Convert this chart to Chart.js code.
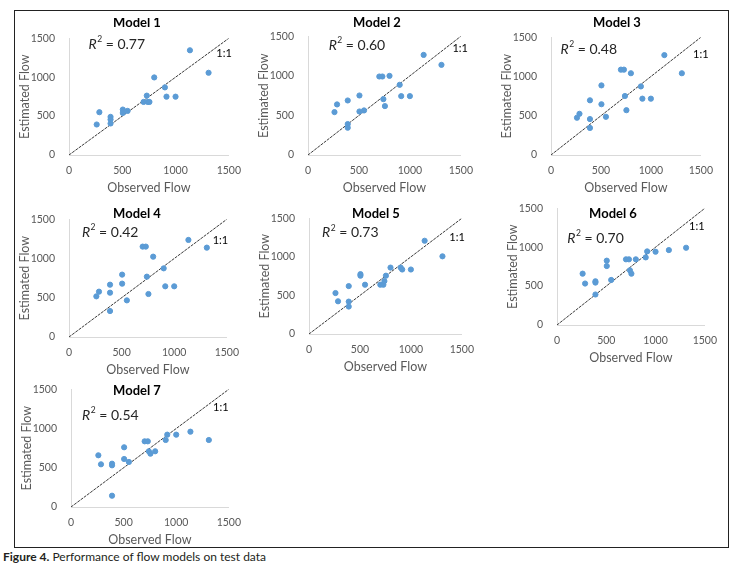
<!DOCTYPE html>
<html>
<head>
<meta charset="utf-8">
<script src="https://cdn.jsdelivr.net/npm/chart.js@4.4.1/dist/chart.umd.min.js"></script>
<style>
  body { margin: 0; background: #fff; width: 733px; height: 572px; position: relative; overflow: hidden; }
  #frame { position: absolute; left: 14px; top: 10px; width: 713px; height: 536px; border: 1.5px solid #222; }
  .panel { position: absolute; }
  #caption { position: absolute; left: 3px; top: 549px; font: 12px Lato, sans-serif; color: #231f20; }
</style>
</head>
<body>
<div id="frame"></div>
<div id="caption"><b>Figure 4.</b> Performance of flow models on test data</div>
<script>
// observed flow is the same test set for every model
const observed = [260, 285, 390, 390, 390, 505, 505, 550, 700, 730, 740, 755, 800, 900, 915, 1000, 1135, 1310];

const model1 = [392, 550, 490, 456, 405, 584, 541, 567, 682, 763, 682, 682, 997, 869, 750, 750, 1346, 1057];
const model2 = [542, 639, 689, 391, 345, 752, 550, 563, 992, 992, 706, 618, 1000, 887, 744, 744, 1265, 1139];
const model3 = [475, 525, 458, 697, 345, 887, 647, 487, 1088, 1088, 752, 571, 1042, 874, 718, 718, 1273, 1042];
const model4 = [518, 578, 565, 667, 331, 795, 680, 467, 1152, 1152, 769, 548, 1024, 875, 646, 646, 1237, 1139];
const model5 = [531, 424, 621, 420, 356, 776, 756, 639, 639, 639, 686, 756, 861, 861, 836, 836, 1209, 1007];
const model6 = [660, 533, 562, 545, 392, 827, 758, 579, 844, 844, 703, 660, 844, 869, 946, 942, 963, 993];
const model7 = [659, 544, 552, 531, 144, 761, 612, 574, 837, 837, 710, 680, 710, 854, 922, 922, 960, 854];

const modelNames = ['Model 1', 'Model 2', 'Model 3', 'Model 4', 'Model 5', 'Model 6', 'Model 7'];
const estimated = [model1, model2, model3, model4, model5, model6, model7];
const r2 = [0.77, 0.60, 0.48, 0.42, 0.73, 0.70, 0.54];
const axisTicks = [0, 500, 1000, 1500];

// layout: plot area in page px, title offset from plot top-left, label anchors in data units
const panels = [
  { left: 69,  top: 38,  w: 166, h: 117, tdx: 68, tdy: -15, r2At: [446, 1419], oneAt: [1455, 1300] },
  { left: 308, top: 36,  w: 159, h: 119, tdx: 69, tdy: -13, r2At: [478, 1387], oneAt: [1494, 1345] },
  { left: 551, top: 37,  w: 156, h: 118, tdx: 66, tdy: -14, r2At: [376, 1345], oneAt: [1500, 1282] },
  { left: 69,  top: 219, w: 164, h: 118, tdx: 68, tdy: -5,  r2At: [389, 1330], oneAt: [1439, 1228] },
  { left: 309, top: 218, w: 159, h: 116, tdx: 67, tdy: -4,  r2At: [403, 1312], oneAt: [1453, 1256] },
  { left: 557, top: 208, w: 154, h: 117, tdx: 56, tdy: 6,   r2At: [389, 1116], oneAt: [1419, 1270] },
  { left: 71,  top: 389, w: 164, h: 118, tdx: 66, tdy: 2,   r2At: [372, 1169], oneAt: [1424, 1275] }
];

const FONT = 'Lato, sans-serif';
const PAD_L = 55, PAD_T = 20, PAD_R = 15, PAD_B = 40;

const panelLabels = {
  id: 'panelLabels',
  afterDatasetsDraw(chart, args, o) {
    const { ctx, chartArea, scales } = chart;
    ctx.save();
    ctx.textBaseline = 'middle';
    // title
    ctx.fillStyle = '#000';
    ctx.textAlign = 'center';
    ctx.font = 'bold 13px ' + FONT;
    ctx.fillText(o.title, chartArea.left + o.tdx, chartArea.top + o.tdy);
    // R² = value
    const cx = scales.x.getPixelForValue(o.r2At[0]);
    const cy = scales.y.getPixelForValue(o.r2At[1]);
    const rest = ' = ' + o.r2.toFixed(2);
    ctx.font = 'italic 14px ' + FONT;
    const wR = ctx.measureText('R').width;
    ctx.font = '8.5px ' + FONT;
    const w2 = ctx.measureText('2').width;
    ctx.font = '14px ' + FONT;
    const wRest = ctx.measureText(rest).width;
    let x = cx - (wR + w2 + wRest) / 2;
    ctx.textAlign = 'left';
    ctx.fillStyle = '#262626';
    ctx.font = 'italic 14px ' + FONT;
    ctx.fillText('R', x, cy);
    x += wR + 0.5;
    ctx.font = '8.5px ' + FONT;
    ctx.fillText('2', x, cy - 5);
    x += w2;
    ctx.font = '14px ' + FONT;
    ctx.fillText(rest, x, cy);
    // 1:1 label
    ctx.textAlign = 'center';
    ctx.font = '11px ' + FONT;
    ctx.fillStyle = '#000';
    ctx.fillText('1:1', scales.x.getPixelForValue(o.oneAt[0]), scales.y.getPixelForValue(o.oneAt[1]));
    ctx.restore();
  }
};

function axis(title, isX) {
  return {
    type: 'linear',
    min: 0,
    max: 1500,
    afterBuildTicks: s => { s.ticks = axisTicks.map(v => ({ value: v })); },
    afterFit: s => { if (isX) s.height = PAD_B; else s.width = PAD_L; },
    grid: { display: true, drawOnChartArea: false, drawTicks: false },
    border: { display: true, color: '#d9d9d9', width: 1 },
    ticks: {
      color: '#595959',
      font: { family: FONT, size: 10.5 },
      padding: isX ? 9 : 14,
      callback: v => String(v)
    },
    title: {
      display: true,
      text: title,
      color: '#595959',
      font: { family: FONT, size: 12.5 },
      padding: { top: isX ? 2 : 3, bottom: 0 }
    }
  };
}

panels.forEach((p, i) => {
  const div = document.createElement('div');
  div.className = 'panel';
  const cw = PAD_L + p.w + PAD_R, ch = PAD_T + p.h + PAD_B;
  div.style.left = (p.left - PAD_L) + 'px';
  div.style.top = (p.top - PAD_T) + 'px';
  const canvas = document.createElement('canvas');
  canvas.width = cw;
  canvas.height = ch;
  div.appendChild(canvas);
  document.body.appendChild(div);

  new Chart(canvas, {
    type: 'scatter',
    data: {
      datasets: [
        {
          data: observed.map((v, k) => ({ x: v, y: estimated[i][k] })),
          backgroundColor: '#5b9bd5',
          borderColor: '#5b9bd5',
          pointRadius: 2.6,
          order: 1
        },
        {
          type: 'line',
          data: [{ x: 0, y: 0 }, { x: 1500, y: 1500 }],
          borderColor: '#222',
          borderWidth: 0.9,
          borderDash: [3, 1],
          pointRadius: 0,
          order: 2
        }
      ]
    },
    options: {
      responsive: false,
      animation: false,
      devicePixelRatio: 1,
      layout: { padding: { left: 0, top: PAD_T, right: PAD_R, bottom: 0 } },
      plugins: {
        legend: { display: false },
        tooltip: { enabled: false },
        panelLabels: {
          title: modelNames[i], r2: r2[i], tdx: p.tdx, tdy: p.tdy, r2At: p.r2At, oneAt: p.oneAt
        }
      },
      scales: {
        x: axis('Observed Flow', true),
        y: axis('Estimated Flow', false)
      }
    },
    plugins: [panelLabels]
  });
});
</script>
</body>
</html>
